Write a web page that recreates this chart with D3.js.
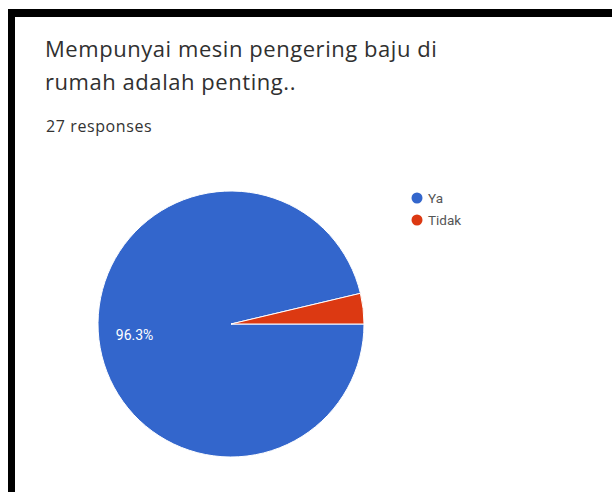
<!DOCTYPE html>
<html>
<head>
<meta charset="utf-8">
<script src="https://cdn.jsdelivr.net/npm/d3@7"></script>
<style>
  html, body { margin: 0; padding: 0; background: #fff; }
  svg { display: block; }
</style>
</head>
<body>
<svg id="chart" width="612" height="492"></svg>
<script>
const categories = ["Ya", "Tidak"];
const counts = [26, 1];
const colors = ["#3366cc", "#dc3912"];
const titleLines = ["Mempunyai mesin pengering baju di", "rumah adalah penting.."];
const subtitle = "27 responses";

const svg = d3.select("#chart");
const W = 612, H = 492;

svg.append("rect").attr("width", W).attr("height", H).attr("fill", "#fff");

// frame
svg.append("rect").attr("x", 8).attr("y", 9).attr("width", W - 8).attr("height", 8).attr("fill", "#000");
svg.append("rect").attr("x", 8).attr("y", 9).attr("width", 7).attr("height", H - 9).attr("fill", "#000");

// title
const title = svg.append("text")
  .attr("font-family", "'Open Sans', Roboto, sans-serif")
  .attr("font-size", 22)
  .attr("letter-spacing", 0.55)
  .attr("fill", "#303030");
titleLines.forEach((t, i) => {
  title.append("tspan").attr("x", 45).attr("y", 57 + i * 33).text(t);
});

svg.append("text")
  .attr("x", 46).attr("y", 132)
  .attr("font-family", "'Open Sans', Roboto, sans-serif")
  .attr("font-size", 16)
  .attr("letter-spacing", 0.6)
  .attr("fill", "#333")
  .text(subtitle);

// pie
const cx = 231, cy = 324, r = 133;
const total = d3.sum(counts);
const data = categories.map((c, i) => ({ name: c, value: counts[i], color: colors[i] }));
const pie = d3.pie().value(d => d.value).sort(null)
  .startAngle(Math.PI / 2).endAngle(Math.PI / 2 + 2 * Math.PI);
const arcs = pie(data);
const arc = d3.arc().innerRadius(0).outerRadius(r);

const g = svg.append("g").attr("transform", `translate(${cx},${cy})`);
g.selectAll("path").data(arcs).join("path")
  .attr("d", arc)
  .attr("fill", d => d.data.color)
  .attr("stroke", "#fff")
  .attr("stroke-width", 1);

// label for big slice
const fmt = d3.format(".1%");
const labelArc = d3.arc().innerRadius(r * 0.73).outerRadius(r * 0.73);
arcs.filter(d => d.value / total > 0.05).forEach(d => {
  const [lx, ly] = labelArc.centroid(d);
  g.append("text")
    .attr("x", lx).attr("y", ly)
    .attr("text-anchor", "middle")
    .attr("dominant-baseline", "central")
    .attr("font-family", "Roboto, sans-serif")
    .attr("font-size", 14)
    .attr("fill", "#fff")
    .text(fmt(d.value / total));
});

// legend
const legend = svg.append("g").attr("transform", "translate(417,198)");
const items = legend.selectAll("g").data(data).join("g")
  .attr("transform", (d, i) => `translate(0,${i * 22})`);
items.append("circle").attr("r", 5.5).attr("fill", d => d.color);
items.append("text")
  .attr("x", 11).attr("y", 0)
  .attr("dominant-baseline", "central")
  .attr("font-family", "Roboto, sans-serif")
  .attr("font-size", 13.5)
  .attr("fill", "#555")
  .text(d => d.name);
</script>
</body>
</html>
